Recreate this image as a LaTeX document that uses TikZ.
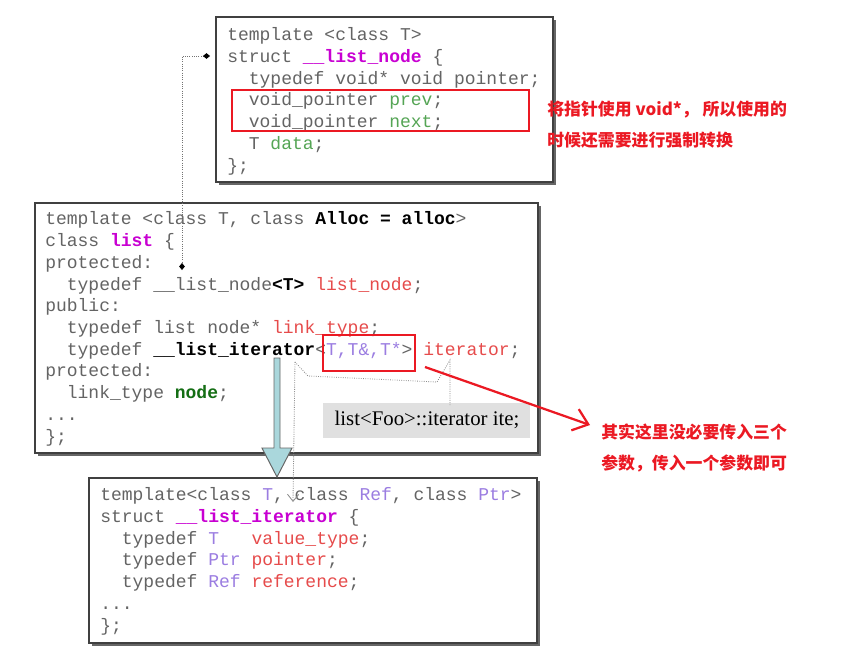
\documentclass[tikz,border=0pt]{standalone}
\usepackage{fontspec}
\setmonofont{Liberation Mono}
\newfontfamily\cjk{Noto Sans CJK SC}
\newfontfamily\timesf{Liberation Serif}
\usetikzlibrary{arrows.meta}

\definecolor{codegray}{RGB}{100,100,100}
\definecolor{clsmag}{RGB}{200,0,210}
\definecolor{memgreen}{RGB}{85,165,85}
\definecolor{nodegreen}{RGB}{20,110,20}
\definecolor{tdred}{RGB}{230,75,75}
\definecolor{parpurple}{RGB}{155,125,225}
\definecolor{notered}{RGB}{235,25,35}
\definecolor{arrowteal}{RGB}{170,215,220}

\newcommand\clsname[1]{\textcolor{clsmag}{\bfseries #1}}
\newcommand\memname[1]{\textcolor{memgreen}{#1}}
\newcommand\tdname[1]{\textcolor{tdred}{#1}}
\newcommand\parname[1]{\textcolor{parpurple}{#1}}
\newcommand\bk[1]{\textcolor{black}{\bfseries #1}}

\begin{document}
\begin{tikzpicture}[x=0.025cm, y=-0.025cm,
    code/.style={anchor=base west, inner sep=0, align=left, text=codegray,
      font=\ttfamily\fontsize{12.8}{15.44}\selectfont},
    frame/.style={draw=black!75, line width=1.1pt, fill=white},
    shade/.style={fill=black!60, draw=none},
    hint/.style={draw=black!45, densely dotted, line width=0.6pt},
    redbox/.style={draw=notered, line width=1.6pt},
    note/.style={anchor=west, inner sep=0, align=left, text=notered,
      font=\cjk\bfseries\fontsize{12}{22}\selectfont}]

    \useasboundingbox (0,0) rectangle (858,664);

    % struct __list_node (base = last line)
    \fill[shade] (219,20) rectangle (556,185);
    \draw[frame] (216,17) rectangle (553,182);
    \node[code] (nodecode) at (227,171) {template <class T>\\
      struct \clsname{\_\_list\_node} \{\\
      ~~typedef void* void pointer;\\
      ~~void\_pointer \memname{prev};\\
      ~~void\_pointer \memname{next};\\
      ~~T \memname{data};\\
      \};};
    \draw[redbox] (232,90) rectangle (529,131);
    \node[note] (note1) at (547,124.5) {将指针使用 void*， 所以使用的\\时候还需要进行强制转换};

    % class list
    \fill[shade] (38,206) rectangle (541,456);
    \draw[frame] (35,203) rectangle (538,453);
    \node[code] (listcode) at (45,442) {template <class T, class \bk{Alloc = alloc}>\\
      class \clsname{list} \{\\
      protected:\\
      ~~typedef \_\_list\_node\bk{<T>} \tdname{list\_node};\\
      public:\\
      ~~typedef list node* \tdname{link\_type};\\
      ~~typedef \bk{\_\_list\_iterator}<\parname{T,T\&,T*}> \tdname{iterator};\\
      protected:\\
      ~~link\_type \textcolor{nodegreen}{\bfseries node};\\
      ...\\
      \};};
    \draw[redbox] (323,335) rectangle (415,371);

    % list<Foo>::iterator
    \fill[black!12] (323,403) rectangle (530,438);
    \node[font=\timesf\fontsize{14.8}{16}\selectfont, inner sep=0] (itevar) at (427,420) {list<Foo>::iterator ite;};
    \coordinate (argl) at (295,362);
    \coordinate (argr) at (450,360);
    \draw[hint] (argl) -- (308,376) -- (437,382) -- (argr) -- (450,405);

    % struct __list_iterator
    \fill[shade] (92,481) rectangle (540,646);
    \draw[frame] (89,478) rectangle (537,643);
    \node[code] (itercode) at (100,631) {template<class \parname{T}, class \parname{Ref}, class \parname{Ptr}>\\
      struct \clsname{\_\_list\_iterator} \{\\
      ~~typedef \parname{T}~~~\tdname{value\_type};\\
      ~~typedef \parname{Ptr} \tdname{pointer};\\
      ~~typedef \parname{Ref} \tdname{reference};\\
      ...\\
      \};};

    % links
    \coordinate (nodeend) at (210,56);
    \coordinate (typeend) at (182,270);
    \draw[hint, draw=black!55, {Diamond[length=5pt,width=4pt,black]}-{Diamond[length=5pt,width=4pt,black]}]
      (nodeend) -- (182,56) -- (typeend);
    \coordinate (argend) at (293,502);
    \draw[hint, -{Straight Barb[length=5pt,width=8pt]}] (argl) -- (argend);
    \draw[draw=black!60, fill=arrowteal, line width=0.7pt]
      (274,358) -- (280,358) -- (280,448) -- (292,448) -- (277,477) -- (262,448) -- (274,448) -- cycle;

    \coordinate (redfrom) at (425,367);
    \coordinate (redto) at (590,425);
    \draw[notered, line width=1.6pt, -{Straight Barb[length=10pt,width=16pt]}] (redfrom) -- (redto);
    \node[note] (note2) at (601,447.5) {其实这里没必要传入三个\\参数，传入一个参数即可};
\end{tikzpicture}
\end{document}
